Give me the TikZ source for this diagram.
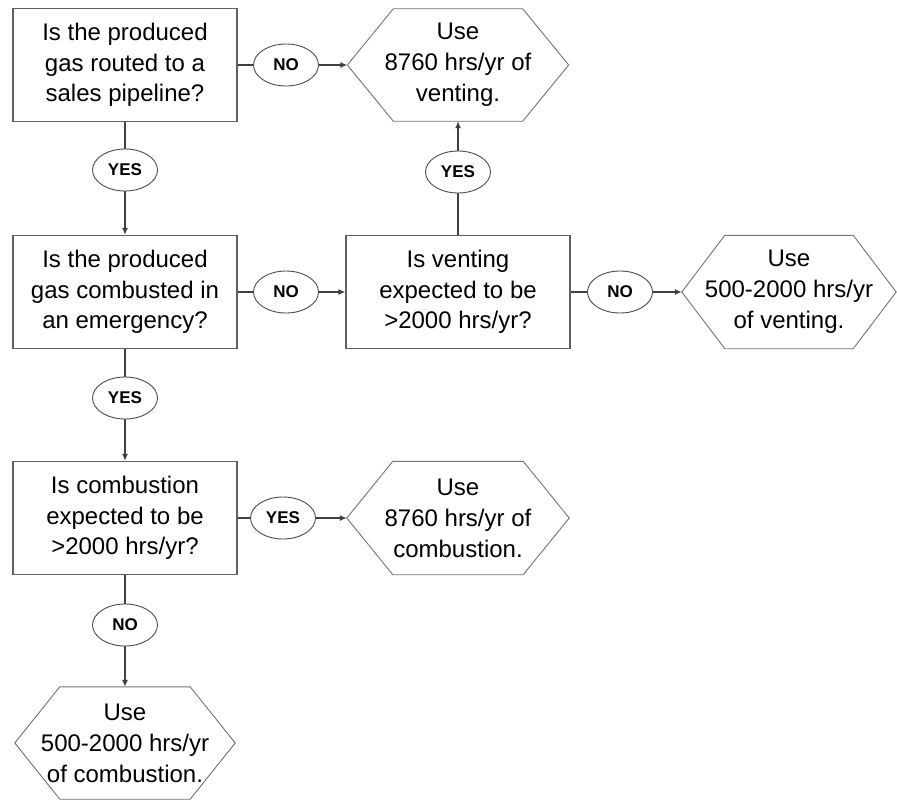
\documentclass[tikz,border=0pt]{standalone}
\usepackage{fontspec}
\setmainfont{Liberation Sans}
\usetikzlibrary{arrows.meta,shapes.geometric}
\newcommand\hexoutline[2]{\draw[hexline] (#1.west) -- ([xshift=#2pt]#1.north west) -- ([xshift=-#2pt]#1.north east) -- (#1.east) -- ([xshift=-#2pt]#1.south east) -- ([xshift=#2pt]#1.south west) -- cycle;}
\begin{document}
\begin{tikzpicture}[x=1pt,y=-1pt,
  qbox/.style={draw=black!62, line width=1.3pt, minimum width=224pt, minimum height=113pt, inner sep=0pt, align=center, font=\fontsize{24}{30.5}\selectfont},
  hexnode/.style={inner sep=0pt, align=center, font=\fontsize{24}{31}\selectfont},
  hexline/.style={draw=black!55, line width=0.9pt, line join=miter},
  lbl/.style={ellipse, draw=black!70, line width=0.9pt, minimum width=65pt, minimum height=42pt, inner sep=0pt, font=\fontsize{17}{20}\selectfont\bfseries},
  conn/.style={draw=black!75, line width=1.2pt},
  arr/.style={conn, -{Latex[length=7pt,width=6pt]}}
]
\useasboundingbox[fill=white] (0,0) rectangle (897,800);

% question boxes
\node[qbox] (b1) at (125,65) {Is the produced\\gas routed to a\\sales pipeline?};
\node[qbox] (b2) at (125,292) {Is the produced\\gas combusted in\\an emergency?};
\node[qbox] (b3) at (458,292) {Is venting\\expected to be\\>2000 hrs/yr?};
\node[qbox] (b4) at (125,518) {Is combustion\\expected to be\\>2000 hrs/yr?};

% result hexagons
\node[hexnode, minimum width=221pt, minimum height=112pt] (h1) at (458,65) {Use\\8760 hrs/yr of\\venting.};
\node[hexnode, minimum width=214pt, minimum height=113pt] (h2) at (789,292) {Use\\500-2000 hrs/yr\\of venting.};
\node[hexnode, minimum width=222pt, minimum height=113pt] (h3) at (458,518) {Use\\8760 hrs/yr of\\combustion.};
\node[hexnode, minimum width=220pt, minimum height=112pt] (h4) at (125,743) {Use\\500-2000 hrs/yr\\of combustion.};
\hexoutline{h1}{46}
\hexoutline{h2}{43}
\hexoutline{h3}{46}
\hexoutline{h4}{45}

% labels
\node[lbl] (y1) at (125,170) {YES};
\node[lbl] (n1) at (286,65) {NO};
\node[lbl] (y2) at (458,172) {YES};
\node[lbl] (n2) at (286,292) {NO};
\node[lbl] (n3) at (620,292) {NO};
\node[lbl] (y3) at (125,398) {YES};
\node[lbl] (y4) at (283,518) {YES};
\node[lbl] (n4) at (125,625) {NO};

% connectors
\draw[conn] (b1.south) -- (y1);
\draw[arr] (y1) -- (b2.north);
\draw[conn] (b1.east) -- (n1);
\draw[arr] (n1) -- (h1.west);
\draw[conn] (b2.east) -- (n2);
\draw[arr] (n2) -- (b3.west);
\draw[conn] (b3.north) -- (y2);
\draw[arr] (y2) -- (h1.south);
\draw[conn] (b3.east) -- (n3);
\draw[arr] (n3) -- (h2.west);
\draw[conn] (b2.south) -- (y3);
\draw[arr] (y3) -- (b4.north);
\draw[conn] (b4.east) -- (y4);
\draw[arr] (y4) -- (h3.west);
\draw[conn] (b4.south) -- (n4);
\draw[arr] (n4) -- (h4.north);
\end{tikzpicture}
\end{document}
